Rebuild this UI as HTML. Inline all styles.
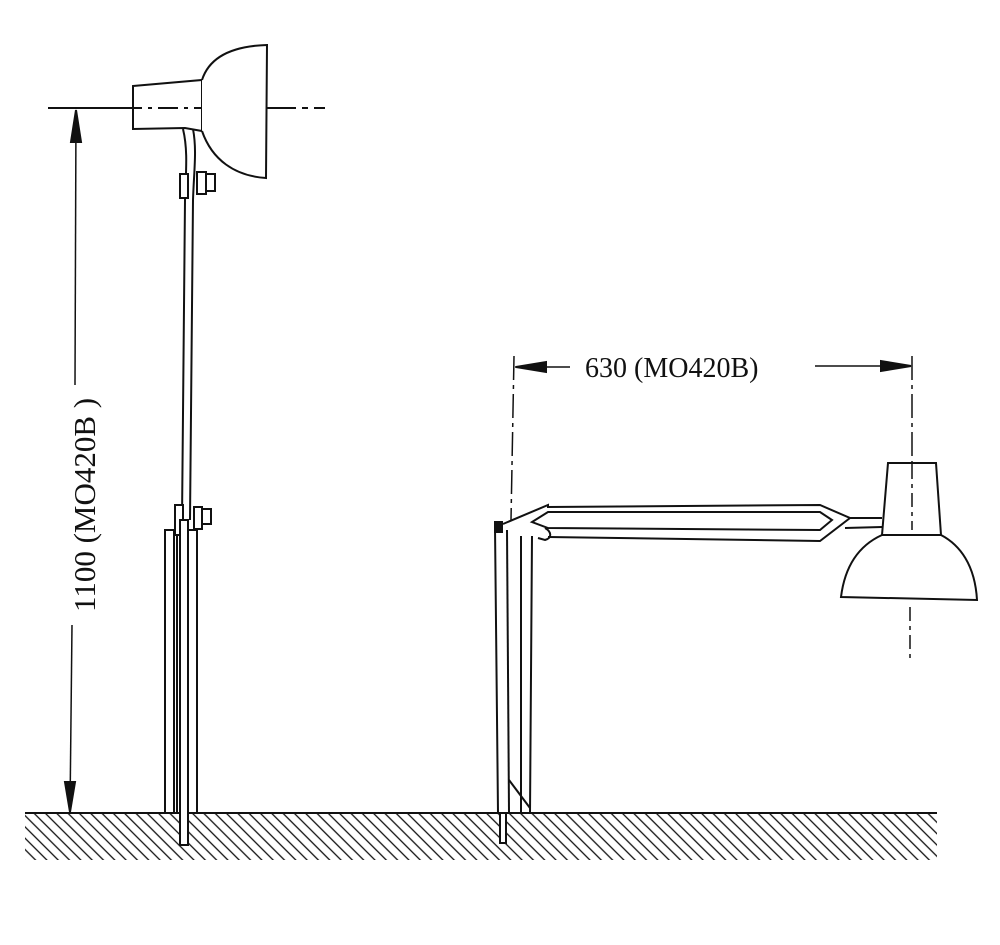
<!DOCTYPE html>
<html><head><style>html,body{margin:0;padding:0;background:#fff}svg{display:block}</style></head>
<body>
<svg width="1000" height="945" viewBox="0 0 1000 945" xmlns="http://www.w3.org/2000/svg">
<defs>
<pattern id="h" width="8" height="8" patternUnits="userSpaceOnUse" patternTransform="rotate(-45)">
<line x1="1" y1="-2" x2="1" y2="10" stroke="#111" stroke-width="1.3"/>
</pattern>
</defs>
<g stroke="#111" fill="none" stroke-width="2">
<!-- ground -->
<rect x="25" y="814" width="912" height="46" fill="url(#h)" stroke="none"/>
<line x1="25" y1="813" x2="937" y2="813"/>

<!-- left dimension -->
<line x1="48" y1="108" x2="122" y2="108"/>
<line x1="76" y1="110" x2="75" y2="385" stroke-width="1.5"/>
<line x1="72" y1="625" x2="70" y2="810" stroke-width="1.5"/>
<polygon points="76,110 71,142 81,142" fill="#111"/>
<polygon points="70,812 65,782 75,782" fill="#111"/>

<!-- left lamp head -->
<path d="M133,86 L202,80 L202,131 L185,128 L133,129 Z" fill="#fff"/>
<line x1="202" y1="80" x2="202" y2="131" stroke-dasharray="8,4"/>
<path d="M202,80 C210,55 235,46 267,45 L266,178 C235,176 212,160 202,131" fill="#fff"/>
<line x1="122" y1="108" x2="202" y2="108" stroke-dasharray="20,6,4,6"/>
<line x1="266" y1="108" x2="325" y2="108" stroke-dasharray="30,6,6,6"/>
<!-- left pole -->
<path d="M183,129 C188,150 186,170 185,200 L182,520"/>
<path d="M193,129 C197,150 194,170 193,200 L190,520"/>
<rect x="180" y="174" width="8" height="24" fill="#fff"/>
<rect x="197" y="172" width="9" height="22" fill="#fff"/>
<rect x="206" y="174" width="9" height="17" fill="#fff"/>
<rect x="165" y="530" width="12" height="283" fill="#fff"/>
<rect x="186" y="530" width="11" height="283" fill="#fff"/>
<line x1="174" y1="530" x2="174" y2="813"/>
<rect x="175" y="505" width="8" height="30" fill="#fff"/>
<rect x="194" y="507" width="8" height="22" fill="#fff"/>
<rect x="202" y="509" width="9" height="15" fill="#fff"/>
<rect x="180" y="520" width="8" height="325" fill="#fff"/>

<!-- right dimension -->
<line x1="514" y1="356" x2="511" y2="520" stroke-dasharray="24,5,4,5" stroke-width="1.5"/>
<line x1="912" y1="356" x2="912" y2="465" stroke-dasharray="24,5,4,5" stroke-width="1.5"/>
<line x1="515" y1="367" x2="570" y2="367" stroke-width="1.5"/>
<line x1="815" y1="366" x2="910" y2="366" stroke-width="1.5"/>
<polygon points="516,367 546,362 546,372" fill="#111"/>
<polygon points="911,366 881,361 881,371" fill="#111"/>

<!-- right lamp stand -->
<path d="M495,527 L498,813 L530,813 L532,536" fill="#fff"/>
<line x1="507" y1="530" x2="509" y2="813"/>
<line x1="521" y1="536" x2="521" y2="813"/>
<path d="M509,780 L530,808" />
<rect x="495" y="522" width="7" height="10" fill="#111"/>
<rect x="500" y="813" width="6" height="30" fill="#fff"/>
<!-- arm -->
<path d="M503,524 L548,505 L548,507 L820,505 L850,518 L820,541 L548,537"/>
<path d="M548,512 L820,512 L832,520 L820,530 L548,528 L532,522 Z"/>
<path d="M545,528 C552,532 552,538 545,540 L538,538"/>
<path d="M850,518 L882,518 M845,528 L882,527"/>
<!-- right lamp head -->
<path d="M888,463 L936,463 L941,535 L882,535 Z"/>
<line x1="912" y1="465" x2="912" y2="530" stroke-dasharray="14,5,4,5" stroke-width="1.5"/>
<line x1="882" y1="535" x2="941" y2="535" stroke-dasharray="10,4"/>
<path d="M882,535 C860,545 845,565 841,597 L977,600 C975,565 960,545 941,535"/>
<line x1="910" y1="607" x2="910" y2="662" stroke-dasharray="14,5,4,5" stroke-width="1.5"/>
</g>
<text x="0" y="0" transform="translate(95,612) rotate(-90)" font-family="Liberation Serif, serif" font-size="31" fill="#111">1100 (MO420B )</text>
<text x="585" y="377" font-family="Liberation Serif, serif" font-size="28" fill="#111">630 (MO420B)</text>
</svg>
</body></html>
